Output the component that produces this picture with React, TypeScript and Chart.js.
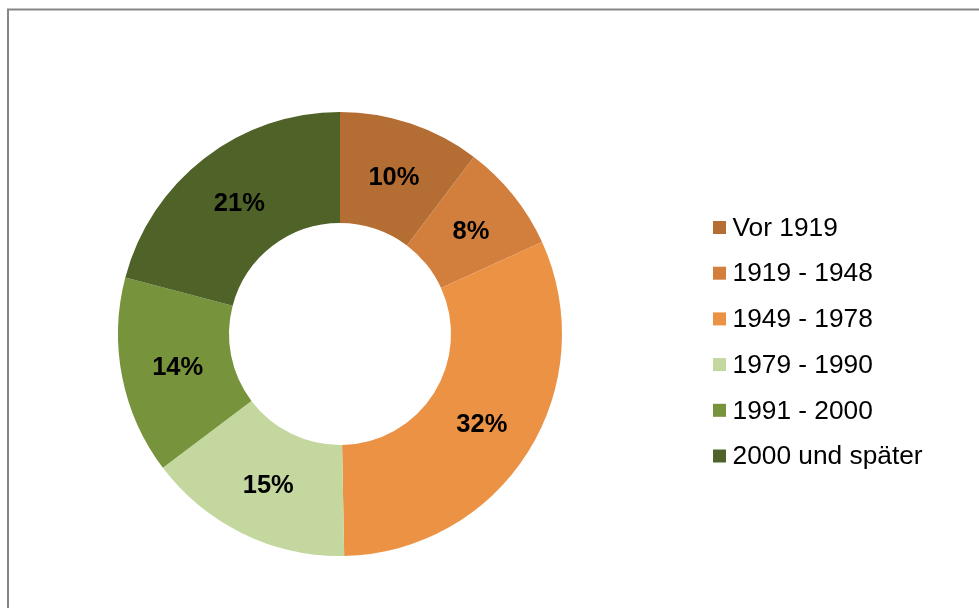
import React, { useEffect, useRef } from "react";
import { Chart, registerables } from "chart.js";

Chart.register(...registerables);

const categories = ["Vor 1919", "1919 - 1948", "1949 - 1978", "1979 - 1990", "1991 - 2000", "2000 und später"];
const shares = [10.3, 7.9, 31.5, 15.0, 14.4, 20.9];
const colors = ["#B46E34", "#D27F3D", "#EC9245", "#C4D79F", "#77933C", "#4F6228"];

const W = 979;
const H = 608;

const framePlugin = {
  id: "frame",
  beforeDraw(chart: any) {
    const ctx = chart.ctx;
    ctx.save();
    ctx.fillStyle = "#ffffff";
    ctx.fillRect(0, 0, W, H);
    ctx.strokeStyle = "#868686";
    ctx.lineWidth = 2;
    ctx.beginPath();
    ctx.moveTo(8, H);
    ctx.lineTo(8, 9.5);
    ctx.lineTo(W, 9.5);
    ctx.stroke();
    ctx.restore();
  },
};

const labelPlugin = {
  id: "sliceLabels",
  afterDatasetsDraw(chart: any) {
    const ctx = chart.ctx;
    const meta = chart.getDatasetMeta(0);
    const data = chart.data.datasets[0].data as number[];
    ctx.save();
    ctx.font = "bold 25.5px 'Liberation Sans', Arial, sans-serif";
    ctx.fillStyle = "#000000";
    ctx.textAlign = "center";
    ctx.textBaseline = "middle";
    meta.data.forEach((arc: any, i: number) => {
      const p = arc.tooltipPosition();
      ctx.fillText(Math.round(data[i]) + "%", p.x + 1, p.y + 2);
    });
    ctx.restore();
  },
};

const legendPlugin = {
  id: "customLegend",
  afterDraw(chart: any) {
    const ctx = chart.ctx;
    const labels = chart.data.labels as string[];
    const bg = chart.data.datasets[0].backgroundColor as string[];
    ctx.save();
    ctx.font = "26.3px 'Liberation Sans', Arial, sans-serif";
    ctx.textBaseline = "middle";
    ctx.textAlign = "left";
    labels.forEach((lab, i) => {
      const cy = 227.5 + i * 45.7;
      ctx.fillStyle = bg[i];
      ctx.fillRect(713, cy - 6.5, 13, 13);
      ctx.fillStyle = "#000000";
      ctx.fillText(lab, 732.5, cy + 1);
    });
    ctx.restore();
  },
};

export default function App() {
  const ref = useRef<HTMLCanvasElement | null>(null);
  useEffect(() => {
    if (!ref.current) return;
    const chart = new Chart(ref.current, {
      type: "doughnut",
      data: {
        labels: categories,
        datasets: [
          {
            data: shares,
            backgroundColor: colors,
            borderWidth: 0,
          },
        ],
      },
      options: {
        animation: false,
        responsive: false,
        maintainAspectRatio: false,
        cutout: "50%",
        layout: { padding: { left: 118, right: 417, top: 112, bottom: 52 } },
        plugins: {
          legend: { display: false },
          tooltip: { enabled: false },
        },
      },
      plugins: [framePlugin, labelPlugin, legendPlugin],
    });
    return () => chart.destroy();
  }, []);
  return (
    <div style={{ position: "fixed", left: 0, top: 0, width: W, height: H, background: "#fff" }}>
      <canvas ref={ref} width={W} height={H} style={{ width: W, height: H, display: "block" }} />
    </div>
  );
}
